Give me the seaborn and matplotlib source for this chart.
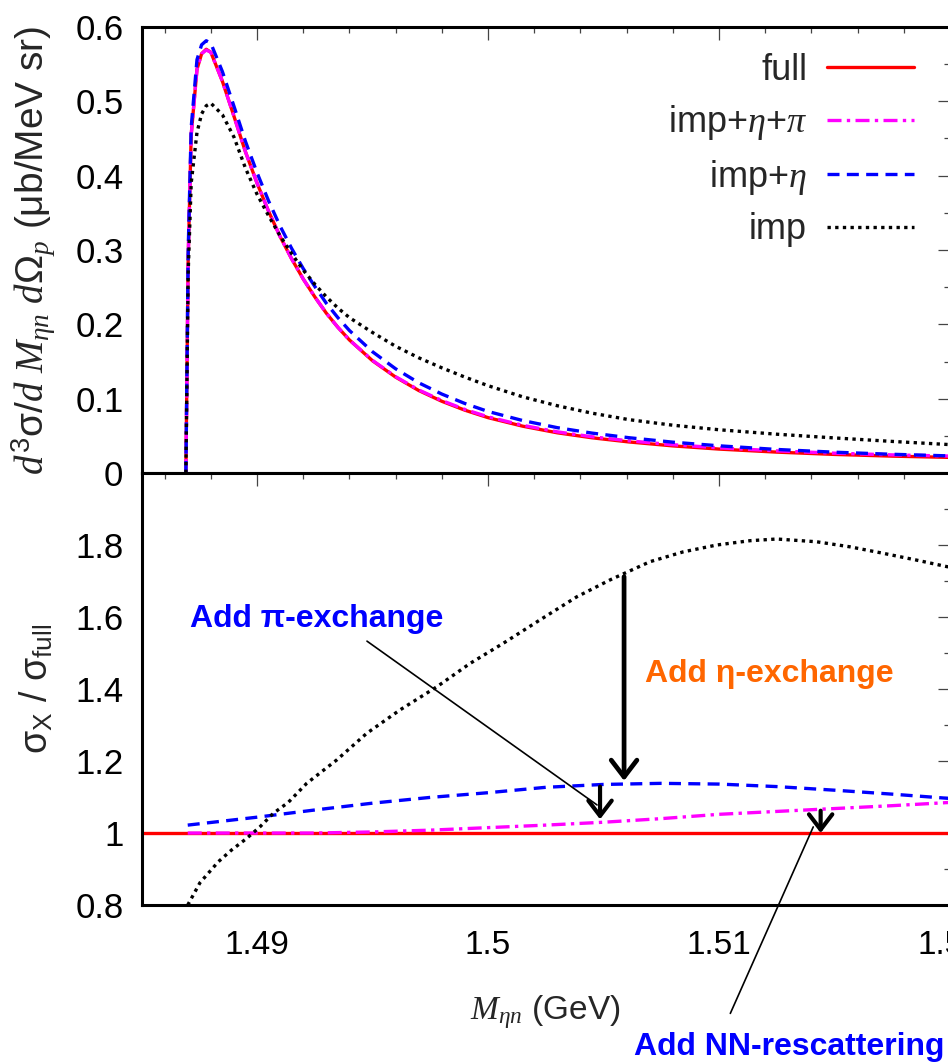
import matplotlib
matplotlib.use("Agg")
import matplotlib.pyplot as plt
from matplotlib.ticker import MultipleLocator, FuncFormatter
import seaborn as sns

# ---------------- data ----------------
# upper panel: d^3sigma / dM dOmega  (x in GeV)
x_top = [1.48692, 1.48702, 1.48715, 1.48740, 1.48760, 1.48780, 1.48800, 1.48850,
         1.48900, 1.48950, 1.49000, 1.49050, 1.49100, 1.49150, 1.49200, 1.49250,
         1.49300, 1.49350, 1.49400, 1.49500, 1.49600, 1.49700, 1.49800, 1.49900,
         1.50000, 1.50150, 1.50300, 1.50450, 1.50610, 1.50800, 1.51000, 1.51250,
         1.51500, 1.51750, 1.52000]
full_top = [0.0, 0.29, 0.455, 0.543, 0.564, 0.570, 0.566, 0.527,
            0.480, 0.432, 0.390, 0.352, 0.318, 0.288, 0.261, 0.237,
            0.215, 0.196, 0.179, 0.151, 0.129, 0.111, 0.0965, 0.0845,
            0.0745, 0.0630, 0.0541, 0.0474, 0.0418, 0.0365, 0.0322, 0.0281,
            0.0250, 0.0227, 0.0210]
imp_eta_pi_top = [0.0, 0.29, 0.455, 0.543, 0.564, 0.569, 0.566, 0.527,
                  0.480, 0.432, 0.390, 0.352, 0.318, 0.288, 0.261, 0.237,
                  0.215, 0.196, 0.179, 0.1515, 0.1296, 0.1118, 0.0975, 0.0855,
                  0.0756, 0.0642, 0.0554, 0.0488, 0.0433, 0.0381, 0.0339, 0.0298,
                  0.0267, 0.0244, 0.0228]
imp_eta_top = [0.0, 0.30, 0.465, 0.556, 0.576, 0.5815, 0.578, 0.540,
               0.4935, 0.446, 0.404, 0.366, 0.332, 0.302, 0.275, 0.251,
               0.2283, 0.209, 0.1917, 0.1631, 0.1402, 0.1214, 0.1062, 0.0935,
               0.0828, 0.0706, 0.0610, 0.0537, 0.0475, 0.0415, 0.0366, 0.0317,
               0.0280, 0.0252, 0.0230]
imp_top = [0.0, 0.27, 0.39, 0.458, 0.483, 0.494, 0.4975, 0.482,
           0.452, 0.410, 0.375, 0.346, 0.319, 0.295, 0.273, 0.254,
           0.237, 0.222, 0.209, 0.189, 0.1705, 0.155, 0.1415, 0.129,
           0.1175, 0.1025, 0.0905, 0.0805, 0.0718, 0.0643, 0.0582, 0.0522,
           0.0472, 0.0425, 0.0382]

# lower panel: ratios sigma_X / sigma_full
x_full_ratio = [1.485, 1.520]
full_ratio = [1.0, 1.0]

x_ratio = [1.4870, 1.4900, 1.4925, 1.4950, 1.4975, 1.5000, 1.5025, 1.5050,
           1.5075, 1.5100, 1.5125, 1.5150, 1.5175, 1.5200]
imp_eta_ratio = [1.022, 1.044, 1.064, 1.083, 1.099, 1.112, 1.127, 1.135,
                 1.138, 1.136, 1.129, 1.119, 1.108, 1.096]
imp_eta_pi_ratio = [1.0, 1.0, 1.0, 1.003, 1.008, 1.015, 1.022, 1.030,
                    1.040, 1.052, 1.060, 1.068, 1.076, 1.085]

x_imp_ratio = [1.48700, 1.48753, 1.48832, 1.48890, 1.48955, 1.49013, 1.49071,
               1.49135, 1.49215, 1.49345, 1.49475, 1.49619, 1.49778, 1.49922,
               1.50066, 1.50225, 1.50384, 1.50528, 1.50701, 1.50845, 1.50990,
               1.51134, 1.51250, 1.51423, 1.51567, 1.51711, 1.51856, 1.51986,
               1.52000]
imp_ratio = [0.80, 0.862, 0.92, 0.953, 0.985, 1.0175, 1.055,
             1.085, 1.138, 1.203, 1.277, 1.342, 1.406, 1.471,
             1.527, 1.592, 1.656, 1.703, 1.7536, 1.781, 1.80,
             1.812, 1.8167, 1.809, 1.795, 1.777, 1.758, 1.74,
             1.739]

labels = ["full", r"imp+$\eta$+$\pi$", r"imp+$\eta$", "imp"]
x_ticks = [1.49, 1.50, 1.51, 1.52]
top_yticks = [0, 0.1, 0.2, 0.3, 0.4, 0.5, 0.6]
bot_yticks = [0.8, 1.0, 1.2, 1.4, 1.6, 1.8]

# ---------------- style ----------------
sns.set_style("white")
plt.rcParams["font.family"] = ["Liberation Sans", "DejaVu Sans"]
plt.rcParams["mathtext.fontset"] = "custom"
plt.rcParams["mathtext.rm"] = "Liberation Sans"
plt.rcParams["mathtext.sf"] = "Liberation Sans"
plt.rcParams["mathtext.it"] = "Liberation Serif:italic"
plt.rcParams["mathtext.bf"] = "Liberation Sans:bold"
plt.rcParams["mathtext.fallback"] = "stix"

LW = 2.4
styles = [
    dict(color="#ff0000", linestyle="-", linewidth=LW),
    dict(color="#ff00ff", linestyle=(0, (4.2, 1.6, 1.0, 1.6)), linewidth=LW),
    dict(color="#0000ff", linestyle=(0, (3.6, 2.2)), linewidth=LW),
    dict(color="#000000", linestyle=(0, (1.0, 1.3)), linewidth=LW),
]

fig = plt.figure(figsize=(9.48, 10.62), dpi=100)
ax1 = fig.add_axes([0.1493, 0.5546, 0.8528, 0.4200])
ax2 = fig.add_axes([0.1493, 0.1478, 0.8528, 0.4068])

top_series = [full_top, imp_eta_pi_top, imp_eta_top, imp_top]
for ys, lab, st in zip(top_series, labels, styles):
    sns.lineplot(x=x_top, y=ys, ax=ax1, label=lab, dash_capstyle="butt", **st)

sns.lineplot(x=x_full_ratio, y=full_ratio, ax=ax2, dash_capstyle="butt", **styles[0])
sns.lineplot(x=x_ratio, y=imp_eta_pi_ratio, ax=ax2, dash_capstyle="butt", **styles[1])
sns.lineplot(x=x_ratio, y=imp_eta_ratio, ax=ax2, dash_capstyle="butt", **styles[2])
sns.lineplot(x=x_imp_ratio, y=imp_ratio, ax=ax2, dash_capstyle="butt", **styles[3])

fmt = FuncFormatter(lambda v, p: f"{v:g}")
for ax in (ax1, ax2):
    ax.set_xlim(1.485, 1.520)
    ax.xaxis.set_major_locator(plt.FixedLocator(x_ticks))
    ax.xaxis.set_minor_locator(MultipleLocator(0.002))
    ax.xaxis.set_major_formatter(fmt)
    ax.yaxis.set_major_formatter(fmt)
    ax.tick_params(which="both", direction="in", top=True, right=True,
                   color="#444444", width=0.9, labelcolor="black")
    ax.tick_params(axis="y", labelsize=25, pad=13)
    ax.tick_params(axis="x", labelsize=24, pad=18)
    ax.tick_params(which="major", length=9)
    ax.tick_params(which="minor", length=4.5)
    for sp in ax.spines.values():
        sp.set_linewidth(2.2)
        sp.set_color("black")

ax1.set_ylim(0, 0.6)
ax1.yaxis.set_major_locator(plt.FixedLocator(top_yticks))
ax1.yaxis.set_minor_locator(MultipleLocator(0.05))
ax1.tick_params(labelbottom=False)
ax1.set_xlabel("")

ax2.set_ylim(0.8, 2.0)
ax2.yaxis.set_major_locator(plt.FixedLocator(bot_yticks))
ax2.yaxis.set_minor_locator(MultipleLocator(0.1))

ax1.set_ylabel(r"$d^3$σ$/d\ M_{\eta n}\ d\Omega_p$ (μb/MeV sr)", fontsize=28)
ax1.yaxis.set_label_coords(-0.104, 0.5)
ax2.set_ylabel(r"σ$_\mathrm{X}$ / σ$_\mathrm{full}$", fontsize=27)
ax2.yaxis.set_label_coords(-0.106, 0.5)
ax2.set_xlabel(r"$M_{\eta n}$ (GeV)", fontsize=24)
ax2.xaxis.set_label_coords(0.5, -0.203)

leg = ax1.legend(loc="upper right", bbox_to_anchor=(0.955, 0.942), frameon=False,
                 markerfirst=False, fontsize=26, handlelength=2.4,
                 handletextpad=0.55, labelspacing=0.43, borderpad=0, borderaxespad=0)

# ---------------- annotations ----------------
ann_font = dict(family="Liberation Sans", fontweight="bold", fontsize=23)
head = "->,head_length=0.55,head_width=0.42"

ax2.text(1.48710, 1.5731, "Add π-exchange", color="#0000ff", ha="left", va="baseline", **ann_font)
ax2.annotate("", xy=(1.50472, 1.078), xytext=(1.49476, 1.533),
             arrowprops=dict(arrowstyle="-", lw=1.2, color="black", shrinkA=0, shrinkB=0))
ax2.annotate("", xy=(1.50485, 1.038), xytext=(1.50485, 1.129),
             arrowprops=dict(arrowstyle=head, lw=3.0, color="black", shrinkA=0, shrinkB=0,
                             mutation_scale=20))

ax2.text(1.50680, 1.4203, "Add η-exchange", color="#ff6600", ha="left", va="baseline", **ann_font)
ax2.annotate("", xy=(1.50589, 1.145), xytext=(1.50589, 1.712),
             arrowprops=dict(arrowstyle=head, lw=3.4, color="black", shrinkA=0, shrinkB=0,
                             mutation_scale=22))

fig.text(0.6684, 0.0066, "Add NN-rescattering", color="#0000ff", ha="left", va="baseline", **ann_font)
ax2.annotate("", xy=(1.51408, 1.017), xytext=(1.51049, 0.499), annotation_clip=False,
             arrowprops=dict(arrowstyle="-", lw=1.2, color="black", shrinkA=0, shrinkB=0))
ax2.annotate("", xy=(1.51440, 1.0), xytext=(1.51440, 1.062),
             arrowprops=dict(arrowstyle=head, lw=3.0, color="black", shrinkA=0, shrinkB=0,
                             mutation_scale=20))

fig.savefig("out.png", dpi=100)
